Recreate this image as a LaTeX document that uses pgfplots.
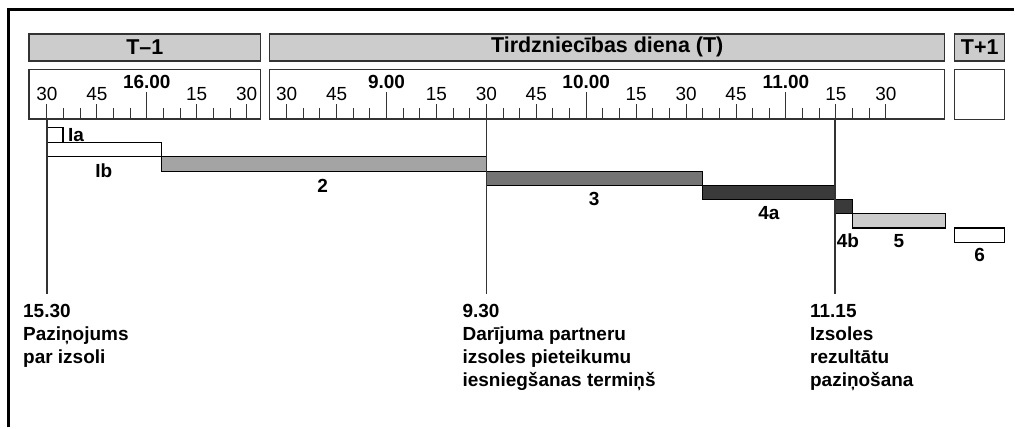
\documentclass[border=0pt]{standalone}
\usepackage{pgfplots}
\pgfplotsset{compat=1.18}
\usepackage{fontspec}
\setmainfont{Liberation Sans}
\definecolor{hdr}{HTML}{CCCCCC}
\definecolor{cTwo}{HTML}{A4A4A4}
\definecolor{cThree}{HTML}{747474}
\definecolor{cFour}{HTML}{3A3A3A}
\definecolor{cFive}{HTML}{CCCCCC}
\definecolor{edge}{HTML}{333333}
\newcommand{\lab}{\bfseries\fontsize{19}{23}\selectfont}
\newcommand{\hdrfont}{\bfseries\fontsize{21.5}{25}\selectfont}
\begin{document}
\begin{tikzpicture}[font=\fontsize{19}{23}\selectfont]
% ---------- canvas (coordinates in px of the reference) ----------
\begin{axis}[at={(0,0)}, anchor=north west, x=1pt, y=1pt, y dir=reverse,
  xmin=0, xmax=1015, ymin=0, ymax=428, hide axis, clip=false]
\addplot[draw=none] coordinates {(0,0) (1015,428)};
% frame
\addplot[black, line width=2.7pt, line join=miter] coordinates {(8.3,428) (8.3,9.3) (1015,9.3)};
% header bars
\addplot[fill=hdr, draw=edge, line width=1.3pt] coordinates {(29,34) (261,34) (261,61) (29,61)} -- cycle;
\addplot[fill=hdr, draw=edge, line width=1.3pt] coordinates {(270,34) (946,34) (946,61) (270,61)} -- cycle;
\addplot[fill=hdr, draw=edge, line width=1.3pt] coordinates {(956,34) (1006,34) (1006,61) (956,61)} -- cycle;
\node[font=\hdrfont] at (axis cs:145,47.5) {T--1};
\node[font=\hdrfont] at (axis cs:608,47.5) {Tirdzniecības diena (T)};
\node[font=\hdrfont] at (axis cs:981,47.5) {T+1};
% T+1 scale box
\addplot[fill=white, draw=edge, line width=1.3pt] coordinates {(956,69.5) (1006,69.5) (1006,119.3) (956,119.3)} -- cycle;
% bars
\addplot[fill=white, draw=black, line width=1.2pt] coordinates {(47,128) (63,128) (63,143) (47,143)} -- cycle;
\addplot[fill=white, draw=black, line width=1.2pt] coordinates {(47,143) (162,143) (162,157) (47,157)} -- cycle;
\addplot[fill=cTwo, draw=black, line width=1.2pt] coordinates {(162,157) (487,157) (487,171.7) (162,171.7)} -- cycle;
\addplot[fill=cThree, draw=black, line width=1.2pt] coordinates {(487,171.7) (703.5,171.7) (703.5,185.7) (487,185.7)} -- cycle;
\addplot[fill=cFour, draw=black, line width=1.2pt] coordinates {(703.5,185.7) (836,185.7) (836,200) (703.5,200)} -- cycle;
\addplot[fill=cFour, draw=black, line width=1.2pt] coordinates {(836,200) (853.3,200) (853.3,214) (836,214)} -- cycle;
\addplot[fill=cFive, draw=black, line width=1.2pt] coordinates {(853.3,214) (947,214) (947,228.3) (853.3,228.3)} -- cycle;
\addplot[fill=white, draw=black, line width=1.2pt] coordinates {(956,228.3) (1006,228.3) (1006,242.7) (956,242.7)} -- cycle;
% vertical marker lines
\addplot[edge, line width=1.5pt] coordinates {(47,119.3) (47,294)};
\addplot[edge, line width=1.5pt] coordinates {(487,119.3) (487,294)};
\addplot[edge, line width=1.5pt] coordinates {(836,119.3) (836,294)};
% bar labels
\node[font=\lab, anchor=west, inner sep=1pt] at (axis cs:67,135.5) {Ia};
\node[font=\lab] at (axis cs:104,171) {Ib};
\node[font=\lab] at (axis cs:323,186) {2};
\node[font=\lab] at (axis cs:595,199.5) {3};
\node[font=\lab] at (axis cs:770,213) {4a};
\node[font=\lab] at (axis cs:849,241) {4b};
\node[font=\lab] at (axis cs:900,241) {5};
\node[font=\lab] at (axis cs:981,255.5) {6};
% bottom texts
\node[font=\lab, anchor=base west, inner sep=0pt] at (axis cs:23,318.3) {15.30};
\node[font=\lab, anchor=base west, inner sep=0pt] at (axis cs:23,341.3) {Paziņojums};
\node[font=\lab, anchor=base west, inner sep=0pt] at (axis cs:23,364.3) {par izsoli};
\node[font=\lab, anchor=base west, inner sep=0pt] at (axis cs:463,318.3) {9.30};
\node[font=\lab, anchor=base west, inner sep=0pt] at (axis cs:463,341.3) {Darījuma partneru};
\node[font=\lab, anchor=base west, inner sep=0pt] at (axis cs:463,364.3) {izsoles pieteikumu};
\node[font=\lab, anchor=base west, inner sep=0pt] at (axis cs:463,387.3) {iesniegšanas termiņš};
\node[font=\lab, anchor=base west, inner sep=0pt] at (axis cs:811,318.3) {11.15};
\node[font=\lab, anchor=base west, inner sep=0pt] at (axis cs:811,341.3) {Izsoles};
\node[font=\lab, anchor=base west, inner sep=0pt] at (axis cs:811,364.3) {rezultātu};
\node[font=\lab, anchor=base west, inner sep=0pt] at (axis cs:811,387.3) {paziņošana};
\end{axis}
% ---------- time scale T-1 (x in minutes of the day) ----------
\begin{axis}[at={(29pt,-119.3pt)}, anchor=south west, scale only axis,
  width=232pt, height=49.8pt, xmin=924.6, xmax=994.2, ymin=0, ymax=1,
  ytick=\empty, xtick={930,945,975,990}, xticklabels={30,45,15,30},
  minor xtick={935,940,950,955,965,970,980,985},
  extra x ticks={960}, extra x tick labels={\textbf{16.00}},
  extra x tick style={major tick length=27pt, xticklabel style={yshift=12.7pt}},
  tick align=inside, xtick pos=left, major tick length=15pt, minor tick length=11pt,
  xticklabel style={anchor=base, inner sep=0pt, yshift=18.3pt, font=\fontsize{19}{23}\selectfont},
  axis line style={edge, line width=1.3pt}, every tick/.style={edge, line width=1pt}]
\end{axis}
% ---------- time scale T ----------
\begin{axis}[at={(270pt,-119.3pt)}, anchor=south west, scale only axis,
  width=676pt, height=49.8pt, xmin=504.9, xmax=707.7, ymin=0, ymax=1,
  ytick=\empty, xtick={510,525,555,570,585,615,630,645,675,690},
  xticklabels={30,45,15,30,45,15,30,45,15,30},
  minor xtick={515,520,530,535,545,550,560,565,575,580,590,595,605,610,620,625,635,640,650,655,665,670,680,685},
  extra x ticks={540,600,660}, extra x tick labels={\textbf{9.00},\textbf{10.00},\textbf{11.00}},
  extra x tick style={major tick length=27pt, xticklabel style={yshift=12.7pt}},
  tick align=inside, xtick pos=left, major tick length=15pt, minor tick length=11pt,
  xticklabel style={anchor=base, inner sep=0pt, yshift=18.3pt, font=\fontsize{19}{23}\selectfont},
  axis line style={edge, line width=1.3pt}, every tick/.style={edge, line width=1pt}]
\end{axis}
\end{tikzpicture}
\end{document}
